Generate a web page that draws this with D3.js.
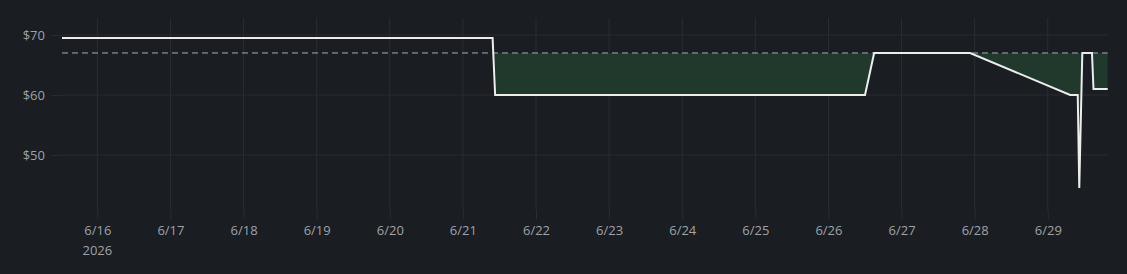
<!DOCTYPE html>
<html>
<head>
<meta charset="utf-8">
<script src="https://cdn.jsdelivr.net/npm/d3@7"></script>
<style>
  html, body { margin: 0; padding: 0; background: #1a1d21; }
  svg { display: block; }
</style>
</head>
<body>
<svg id="chart" width="1127" height="274"></svg>
<script>
// ---- data ----
const times = [
  "2026-06-15T12:24", "2026-06-21T09:45", "2026-06-21T10:35", "2026-06-26T12:00",
  "2026-06-26T15:00", "2026-06-27T22:30", "2026-06-29T07:20", "2026-06-29T09:50",
  "2026-06-29T10:20", "2026-06-29T11:20", "2026-06-29T14:30", "2026-06-29T15:00",
  "2026-06-29T19:40"
];
const prices = [69.5, 69.5, 60, 60, 67, 67, 60, 60, 44.5, 67, 67, 61, 61];
const referencePrice = 67;
const yTickValues = [50, 60, 70];
const xTickDays = ["2026-06-16","2026-06-17","2026-06-18","2026-06-19","2026-06-20","2026-06-21",
  "2026-06-22","2026-06-23","2026-06-24","2026-06-25","2026-06-26","2026-06-27","2026-06-28","2026-06-29"];
const yearLabel = "2026";

(function () {
// ---- layout ----
const W = 1127, H = 274;
const mLeft = 62, mRight = 1107.7, mTop = 18, mBottom = 210;
const parseT = d3.utcParse("%Y-%m-%dT%H:%M");
const parseD = d3.utcParse("%Y-%m-%d");
const data = times.map((t, i) => ({ t: parseT(t), p: prices[i] }));

const x = d3.scaleUtc().domain(d3.extent(data, d => d.t)).range([mLeft, mRight]);
const y = d3.scaleLinear().domain([40.83, 72.83]).range([mBottom, mTop]);

const svg = d3.select("#chart");
svg.append("rect").attr("width", W).attr("height", H).attr("fill", "#1a1d21");

const gridColor = "#2a2d32";
const textColor = "#9ea2a9";
const font = "'Open Sans', 'Noto Sans', sans-serif";
const fs = 13;

// vertical grid
const days = xTickDays.map(parseD);
svg.append("g").selectAll("line").data(days).join("line")
  .attr("x1", d => x(d)).attr("x2", d => x(d))
  .attr("y1", mTop).attr("y2", mBottom)
  .attr("stroke", gridColor).attr("stroke-width", 1);

// horizontal grid
svg.append("g").selectAll("line").data(yTickValues).join("line")
  .attr("x1", mLeft).attr("x2", mRight)
  .attr("y1", d => y(d)).attr("y2", d => y(d))
  .attr("stroke", gridColor).attr("stroke-width", 1);

// y axis
const yAxis = d3.axisLeft(y).tickValues(yTickValues).tickFormat(d => "$" + d).tickSize(11).tickPadding(6);
const gy = svg.append("g").attr("transform", `translate(${mLeft},0)`).call(yAxis);
gy.select(".domain").remove();
gy.selectAll(".tick line").attr("stroke", gridColor).attr("stroke-width", 1);
gy.selectAll(".tick text").attr("fill", textColor).attr("font-size", fs).attr("font-family", font);

// x axis
const xAxis = d3.axisBottom(x).tickValues(days).tickFormat(d3.utcFormat("%-m/%-d")).tickSize(9).tickPadding(7);
const gx = svg.append("g").attr("transform", `translate(0,${mBottom})`).call(xAxis);
gx.select(".domain").remove();
gx.selectAll(".tick line").attr("stroke", gridColor).attr("stroke-width", 1);
gx.selectAll(".tick text").attr("fill", textColor).attr("font-size", fs).attr("font-family", font);
gx.append("text")
  .attr("x", x(days[0])).attr("y", 45)
  .attr("text-anchor", "middle")
  .attr("fill", textColor).attr("font-size", fs).attr("font-family", font)
  .text(yearLabel);

// fill between reference and price where below
const area = d3.area()
  .x(d => x(d.t))
  .y0(y(referencePrice))
  .y1(d => y(Math.min(d.p, referencePrice)));
svg.append("path").datum(data).attr("d", area).attr("fill", "#21382d");

// reference dashed line
svg.append("line")
  .attr("x1", mLeft).attr("x2", mRight)
  .attr("y1", y(referencePrice)).attr("y2", y(referencePrice))
  .attr("stroke", "#a9adb3").attr("stroke-width", 1)
  .attr("stroke-dasharray", "6,4");

// price line
const line = d3.line().x(d => x(d.t)).y(d => y(d.p));
svg.append("path").datum(data).attr("d", line)
  .attr("fill", "none").attr("stroke", "#ececec").attr("stroke-width", 2)
  .attr("stroke-linejoin", "miter");
})();
</script>
</body>
</html>
